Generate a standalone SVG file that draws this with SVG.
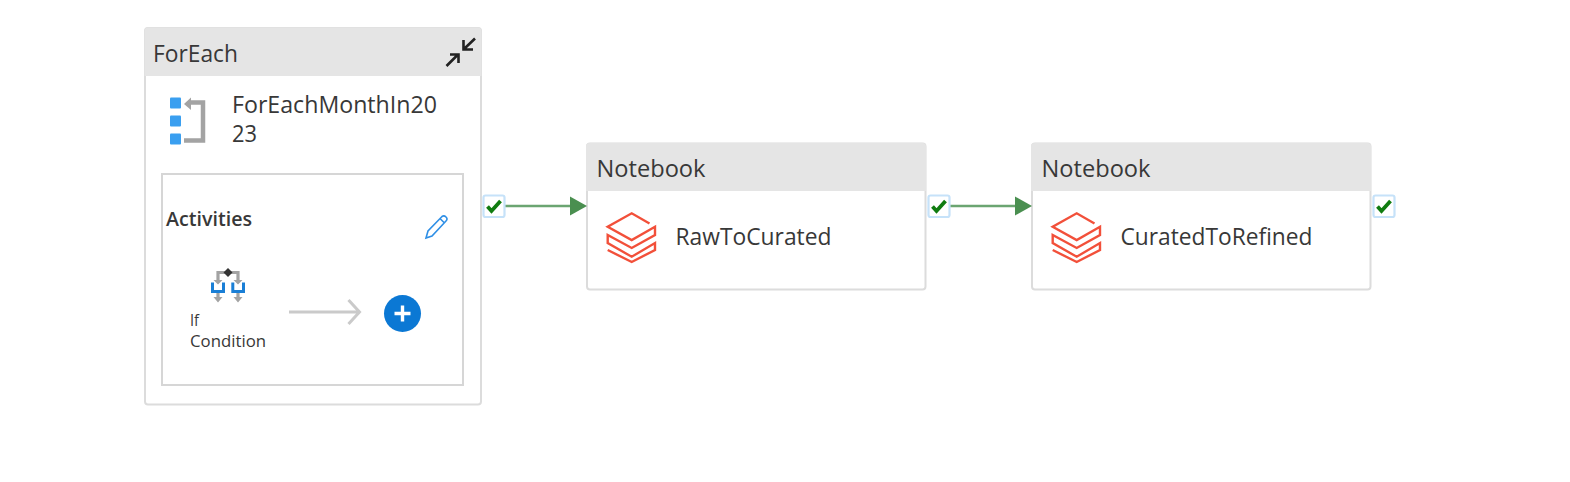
<svg xmlns="http://www.w3.org/2000/svg" width="1570" height="482" viewBox="0 0 1570 482">
<style>
text{font-family:"Open Sans","Noto Sans","Liberation Sans",sans-serif;fill:#383838;}
.t{font-size:23px;}
.card{fill:#fff;stroke:#dcdcdc;stroke-width:2;}
.hd{fill:#e5e5e5;}
.conn{stroke:#6ba571;stroke-width:2.400;fill:none;}
.box{fill:#fff;stroke:#c6e2f9;stroke-width:2.200;}
.chk{fill:none;stroke:#107c10;stroke-width:3.800;}
.dbx{fill:none;stroke:#f2503a;stroke-width:2.400;}
</style>
<defs>
<g id="check"><rect class="box" x="-10" y="-10.500" width="21" height="21.500" rx="2"/><path class="chk" d="M-6 0.500L-2 5L7-5"/></g>
<g id="dbx"><path class="dbx" d="M19.500-12.500L1.700-22.700L-22.300-9.300L1.700 4L25-9.300V-1L1.700 12L-22.300-1V7L1.700 20.700L25 7V14L1.700 26L-22.300 14"/></g>
</defs>
<g id="foreach">
<path class="card" d="M148 28H478Q481 28 481 31V401.500Q481 404.500 478 404.500H148Q145 404.500 145 401.500V31Q145 28 148 28Z"/>
<path class="hd" d="M148 27.500H478Q481.500 27.500 481.500 31V76H144.500V31Q144.500 27.500 148 27.500Z"/>
<text class="t" x="153" y="61.500" textLength="85" lengthAdjust="spacingAndGlyphs">ForEach</text>
<g fill="none" stroke="#222" stroke-width="2.600"><path d="M446.500 66L458 54.500M450 54.500H458.500V63"/><path d="M475 38.500L463.500 49.500M463.500 40V49.500H473"/></g>
<g fill="#3a9ff0"><rect x="170" y="97.500" width="11" height="11" rx="1"/><rect x="170" y="115.500" width="11" height="11" rx="1"/><rect x="170" y="133.500" width="11" height="11" rx="1"/></g>
<path d="M190 102.500H203V140.500H184" fill="none" stroke="#a3a3a3" stroke-width="4.500"/><path d="M184 104L191 97.500V110Z" fill="#a3a3a3"/>
<text class="t" x="232" y="113" textLength="205" lengthAdjust="spacingAndGlyphs">ForEachMonthIn20</text>
<text class="t" x="232" y="142" textLength="25" lengthAdjust="spacingAndGlyphs">23</text>
<rect x="162" y="174" width="301" height="211" fill="#fff" stroke="#d6d6d6" stroke-width="2"/>
<text x="166" y="226" font-size="19" font-weight="600" textLength="86" lengthAdjust="spacingAndGlyphs" fill="#222">Activities</text>
<path d="M426 238L428 231L442 216.500Q444 215 446 217Q448 219 446 221L432 236ZM440 218.500L444.500 223" fill="none" stroke="#2e8fe6" stroke-width="1.600"/>
<path d="M218 281V272.500H238V281" fill="none" stroke="#a3a3a3" stroke-width="3.200"/>
<path d="M228 268L232.500 272.500L228 277L223.500 272.500Z" fill="#333"/>
<path d="M213.500 280H222.500L218 284.500ZM233.500 280H242.500L238 284.500Z" fill="#a3a3a3"/>
<path d="M212.500 282.500V291.500H223.500V282.500M232.800 282.500V291.500H243.500V282.500" fill="none" stroke="#1a7fd6" stroke-width="3"/>
<path d="M218 293V299M238 293V299" stroke="#a3a3a3" stroke-width="3.200"/>
<path d="M213.500 297H222.500L218 302.500ZM233.500 297H242.500L238 302.500Z" fill="#a3a3a3"/>
<text x="190" y="326" font-size="17" textLength="9" lengthAdjust="spacingAndGlyphs">If</text>
<text x="190" y="347" font-size="17" textLength="76" lengthAdjust="spacingAndGlyphs">Condition</text>
<path d="M289 312H358.500M348.500 300L359.500 312L348.500 324" fill="none" stroke="#cacaca" stroke-width="3"/>
<circle cx="402.500" cy="313.500" r="18.500" fill="#0b78d4"/>
<path d="M394.500 313.500H410.500M402.500 305.500V321.500" stroke="#fff" stroke-width="3.400"/>
</g>
<g id="notebook1">
<rect class="card" x="587" y="143.500" width="338.500" height="146" rx="3"/>
<path class="hd" d="M590 143H923Q926 143 926 146V191H586V146Q586 143 590 143Z"/>
<text class="t" x="596.500" y="177" textLength="109" lengthAdjust="spacingAndGlyphs">Notebook</text>
<use href="#dbx" x="630" y="236"/>
<text class="t" x="675.500" y="245" textLength="156" lengthAdjust="spacingAndGlyphs">RawToCurated</text>
</g>
<g id="notebook2">
<rect class="card" x="1032" y="143.500" width="338.500" height="146" rx="3"/>
<path class="hd" d="M1035 143H1368Q1371 143 1371 146V191H1031V146Q1031 143 1035 143Z"/>
<text class="t" x="1041.500" y="177" textLength="109" lengthAdjust="spacingAndGlyphs">Notebook</text>
<use href="#dbx" x="1075" y="236"/>
<text class="t" x="1120.500" y="245" textLength="192" lengthAdjust="spacingAndGlyphs">CuratedToRefined</text>
</g>
<g id="connectors">
<path class="conn" d="M505 206H570"/><path d="M570 196.500L587 206L570 215.500Z" fill="#4a8f50"/>
<path class="conn" d="M950 206H1015"/><path d="M1015 196.500L1032 206L1015 215.500Z" fill="#4a8f50"/>
</g>
<g id="status">
<use href="#check" x="493.500" y="206"/>
<use href="#check" x="938.500" y="206"/>
<use href="#check" x="1383.500" y="206"/>
</g>
</svg>
